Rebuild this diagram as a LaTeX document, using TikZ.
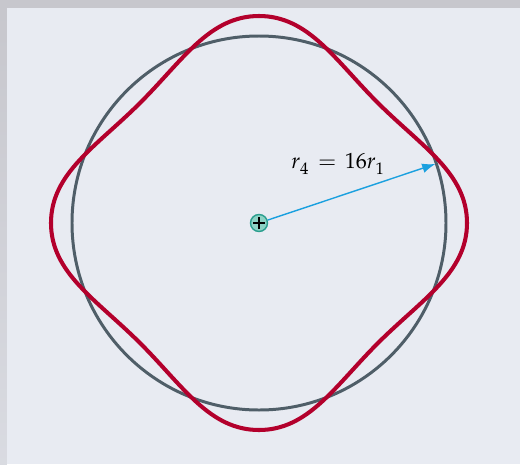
\documentclass[tikz,border=0pt]{standalone}
\usepackage{mathpazo}
\usetikzlibrary{arrows.meta}
\definecolor{orbit}{HTML}{4F5E68}
\definecolor{wave}{HTML}{B3002C}
\definecolor{arrowblue}{HTML}{1AA0DF}
\definecolor{nucfill}{HTML}{8CD2C4}
\definecolor{nucedge}{HTML}{2A9E8E}
\definecolor{bg}{HTML}{E8EBF2}
\definecolor{framegray}{HTML}{C7C7CD}
\newcommand{\lowsub}[1]{_{\lower1.8pt\hbox{$\scriptstyle #1$}}}

\begin{document}
\begin{tikzpicture}[x=0.02cm,y=0.02cm,>={Latex[length=7.5pt,width=5.5pt]},orb/.style={draw=orbit,line width=1.7pt},wv/.style={draw=wave,line width=2.3pt},a/.style={->,draw=arrowblue,line width=.8pt},nuc/.style={circle,draw=nucedge,fill=nucfill,line width=.8pt,minimum size=0.34cm,inner sep=0pt}]
\fill[bg] (-259,-241) rectangle (261,223);
\fill[framegray] (-259,215) rectangle (261,223);
\shade[top color=framegray,bottom color=framegray!45!bg] (-259,-241) rectangle (-252,215);
\draw[orb] (0,0) circle[radius=187];
\draw[wv] plot[smooth cycle,tension=0.75] coordinates {(0:208) (45:169) (90:207) (135:169) (180:208) (225:169) (270:207) (315:169)};
\node[nuc] (n) at (0,0) {};
\draw[line width=1.3pt] (n.center) +(-6,0) -- +(6,0) (n.center) +(0,-6) -- +(0,6);
\coordinate (p) at (18.5:186);
\draw[a] (n) -- (p);
\node[anchor=base west,inner sep=0pt,font=\fontsize{12.5}{15}\selectfont] (lbl) at (32,55) {$r\lowsub{4}\mskip2mu=\mskip2mu16r\lowsub{1}$};
\end{tikzpicture}
\end{document}
